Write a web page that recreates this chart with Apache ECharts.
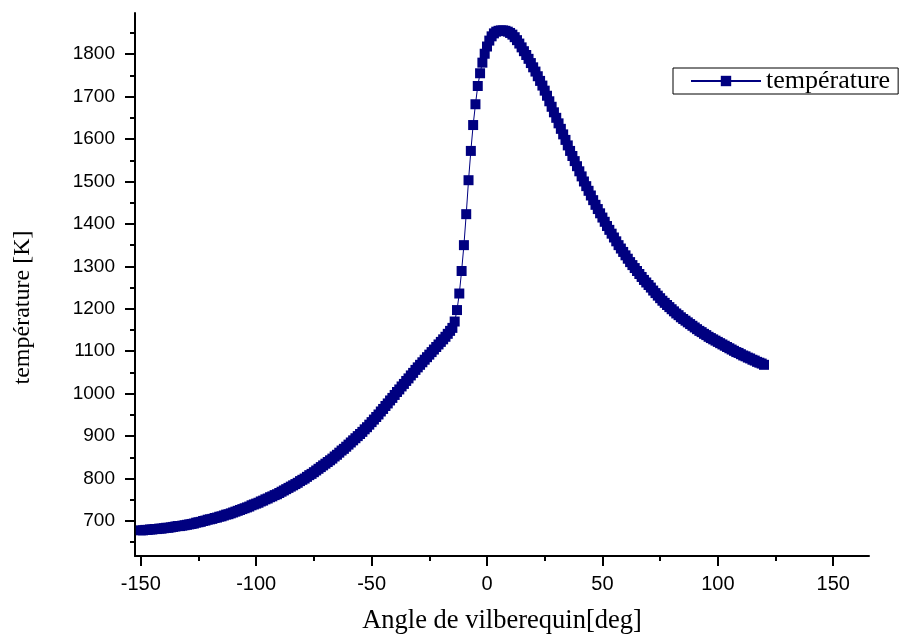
<!DOCTYPE html>
<html>
<head>
<meta charset="utf-8">
<script src="https://cdn.jsdelivr.net/npm/echarts@6/dist/echarts.min.js"></script>
<style>html,body{margin:0;padding:0;background:#fff;}#c{width:903px;height:637px;}</style>
</head>
<body>
<div id="c"></div>
<script>
// Crank angle [deg], one point per degree
var angleStart = -150;
var temperature = [
 678,678,679,679,680,680,
 681,681,682,682,683,
 684,684,685,686,687,
 688,688,689,690,691,
 692,693,694,696,697,
 698,700,701,703,704,
 705,707,708,710,711,
 713,715,716,718,720,
 722,724,726,728,730,
 732,734,737,739,741,
 743,746,748,751,753,
 756,758,761,763,766,
 769,772,775,778,781,
 784,787,790,794,797,
 800,804,808,811,815,
 819,823,827,831,835,
 839,843,847,852,856,
 861,866,870,875,880,
 885,890,895,900,905,
 910,916,921,927,933,
 939,945,951,958,964,
 971,977,984,990,997,
 1004,1010,1017,1023,1030,
 1036,1043,1049,1056,1062,
 1068,1074,1080,1086,1092,
 1098,1104,1110,1116,1122,
 1128,1134,1141,1148,1155,
 1170,1197,1236,1289,1350,
 1423,1503,1572,1633,1682,
 1725,1755,1780,1801,1818,
 1832,1842,1849,1853,1855,
 1856,1856,1855,1853,1850,
 1846,1840,1833,1825,1816,
 1807,1798,1789,1779,1769,
 1759,1748,1737,1726,1714,
 1702,1689,1676,1663,1650,
 1637,1624,1611,1598,1585,
 1572,1560,1548,1536,1524,
 1512,1500,1489,1478,1467,
 1456,1445,1435,1425,1415,
 1405,1395,1386,1377,1368,
 1359,1350,1342,1334,1326,
 1318,1310,1303,1296,1289,
 1282,1275,1268,1262,1256,
 1250,1243,1237,1231,1225,
 1219,1214,1209,1204,1199,
 1194,1189,1185,1180,1176,
 1172,1168,1164,1160,1156,
 1152,1148,1145,1141,1138,
 1134,1131,1128,1125,1122,
 1119,1116,1113,1110,1107,
 1104,1101,1098,1096,1093,
 1090,1088,1085,1083,1080,
 1078,1075,1073,1071,1068
];
var xMajorTicks = [-150, -100, -50, 0, 50, 100, 150];
var xMinorTicks = [-125, -75, -25, 25, 75, 125];
var yMajorTicks = [700, 800, 900, 1000, 1100, 1200, 1300, 1400, 1500, 1600, 1700, 1800];
var yMinorTicks = [650, 750, 850, 950, 1050, 1150, 1250, 1350, 1450, 1550, 1650, 1750, 1850];
var seriesName = 'température';
var xTitle = 'Angle de vilberequin[deg]';
var yTitle = 'température [K]';

var points = temperature.map(function (t, i) { return [angleStart + i, t]; });

var chart = echarts.init(document.getElementById('c'), null, {renderer: 'canvas'});
var sans = 'Liberation Sans, Arial, sans-serif';
var serif = 'Liberation Serif, Times New Roman, serif';
var xMin = -152.5, xMax = 165.5, yMin = 617.5, yMax = 1897;
var plain = function (v) { return String(v); };

chart.setOption({
  animation: false,
  backgroundColor: '#ffffff',
  grid: {left: 135, right: 34, top: 13, bottom: 81, containLabel: false, outerBoundsMode: 'none'},
  legend: {
    data: [seriesName],
    left: 673, top: 68,
    orient: 'vertical',
    borderColor: '#000', borderWidth: 1, borderRadius: 0,
    padding: [0, 8, 0, 17],
    itemWidth: 70, itemHeight: 13,
    textStyle: {fontFamily: serif, fontSize: 26, color: '#000'}
  },
  xAxis: [{
    type: 'value', min: xMin, max: xMax,
    name: xTitle, nameLocation: 'middle', nameGap: 52,
    nameTextStyle: {fontFamily: serif, fontSize: 26.5, color: '#000'},
    axisLine: {show: true, onZero: false, lineStyle: {color: '#000', width: 2}},
    axisTick: {show: true, inside: false, length: 10, customValues: xMajorTicks, lineStyle: {color: '#000', width: 2}},
    axisLabel: {show: true, customValues: xMajorTicks, margin: 18, fontFamily: sans, fontSize: 20, color: '#000', formatter: plain},
    splitLine: {show: false}
  }, {
    type: 'value', min: xMin, max: xMax, position: 'bottom',
    axisLine: {show: false, onZero: false},
    axisTick: {show: true, inside: false, length: 5, customValues: xMinorTicks, lineStyle: {color: '#000', width: 2}},
    axisLabel: {show: false},
    splitLine: {show: false}
  }],
  yAxis: [{
    type: 'value', min: yMin, max: yMax,
    name: yTitle, nameLocation: 'middle', nameGap: 100, nameRotate: 90,
    nameTextStyle: {fontFamily: serif, fontSize: 24, color: '#000', padding: [0, 46, 0, 0]},
    axisLine: {show: true, onZero: false, lineStyle: {color: '#000', width: 2}},
    axisTick: {show: true, inside: false, length: 10, customValues: yMajorTicks, lineStyle: {color: '#000', width: 2}},
    axisLabel: {show: true, customValues: yMajorTicks, margin: 20, fontFamily: sans, fontSize: 19, color: '#000', formatter: plain},
    splitLine: {show: false}
  }, {
    type: 'value', min: yMin, max: yMax, position: 'left',
    axisLine: {show: false, onZero: false},
    axisTick: {show: true, inside: false, length: 5, customValues: yMinorTicks, lineStyle: {color: '#000', width: 2}},
    axisLabel: {show: false},
    splitLine: {show: false}
  }],
  series: [{
    name: seriesName,
    type: 'line',
    xAxisIndex: 0, yAxisIndex: 0,
    data: points,
    symbol: 'rect',
    symbolSize: 10,
    showAllSymbol: true,
    clip: false,
    itemStyle: {color: '#000080'},
    lineStyle: {color: '#000080', width: 1}
  }]
});
</script>
</body>
</html>
